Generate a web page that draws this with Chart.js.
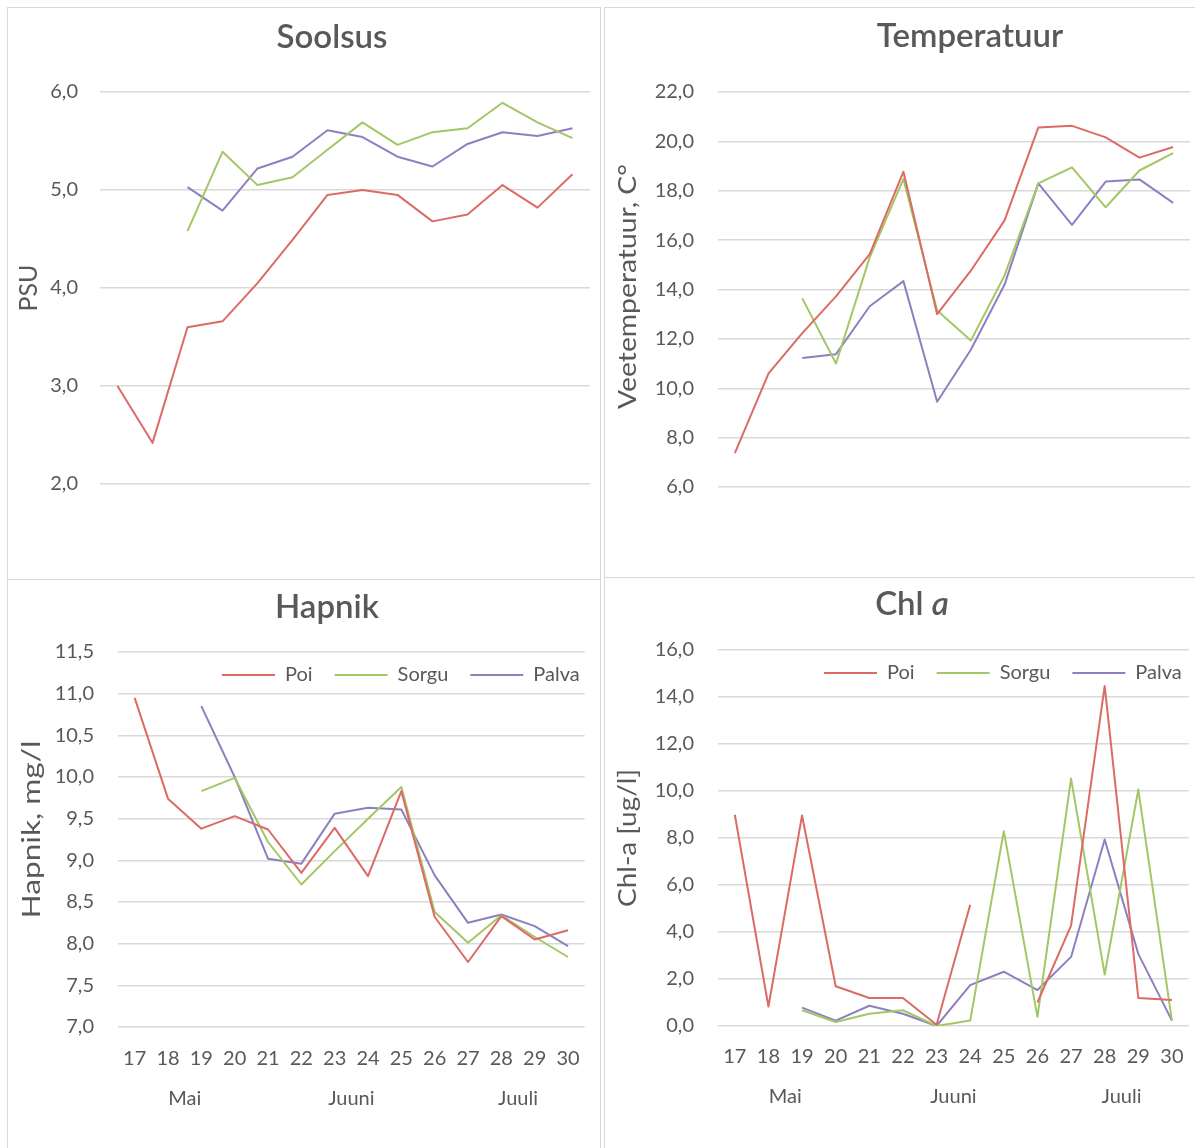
<!DOCTYPE html>
<html>
<head>
<meta charset="utf-8">
<title>Soolsus, temperatuur, hapnik, Chl a</title>
<script src="https://cdn.jsdelivr.net/npm/chart.js@4.4.1/dist/chart.umd.min.js"></script>
<style>
  html, body { margin: 0; padding: 0; background: #fff; overflow: hidden; }
  body { width: 1195px; height: 1148px; position: relative; }
  .panel { position: absolute; box-sizing: border-box; border: 1px solid #d9d9d9; background: #fff; }
  .panel canvas { display: block; }
</style>
</head>
<body>
<div class="panel" style="left:7px;top:7px;width:594px;height:573px;"><canvas id="salinity-chart" width="592" height="571"></canvas></div>
<div class="panel" style="left:604px;top:7px;width:600px;height:571px;"><canvas id="temperature-chart" width="598" height="569"></canvas></div>
<div class="panel" style="left:7px;top:579px;width:594px;height:575px;"><canvas id="oxygen-chart" width="592" height="573"></canvas></div>
<div class="panel" style="left:604px;top:577px;width:600px;height:577px;"><canvas id="chl-chart" width="598" height="575"></canvas></div>

<script>
// sampling days and months
const days = ["17", "18", "19", "20", "21", "22", "23", "24", "25", "26", "27", "28", "29", "30"];
const monthNames = ["Mai", "Juuni", "Juuli"];
const monthDayCounts = [4, 6, 4];
const stationNames = ["Poi", "Sorgu", "Palva"];

// Soolsus (PSU)
const salinityTicks = [2, 3, 4, 5, 6];
const salinityPoi = [3.0, 2.42, 3.6, 3.66, 4.05, 4.49, 4.95, 5.0, 4.95, 4.68, 4.75, 5.05, 4.82, 5.16];
const salinitySorgu = [null, null, 4.58, 5.39, 5.05, 5.13, 5.41, 5.69, 5.46, 5.59, 5.63, 5.89, 5.69, 5.53];
const salinityPalva = [null, null, 5.03, 4.79, 5.22, 5.34, 5.61, 5.54, 5.34, 5.24, 5.47, 5.59, 5.55, 5.63];

// Temperatuur (C)
const temperatureTicks = [6, 8, 10, 12, 14, 16, 18, 20, 22];
const temperaturePoi = [7.37, 10.6, 12.23, 13.72, 15.43, 18.77, 13.0, 14.76, 16.8, 20.56, 20.63, 20.16, 19.34, 19.77];
const temperatureSorgu = [null, null, 13.64, 11.0, 15.3, 18.48, 13.15, 11.93, 14.57, 18.3, 18.95, 17.33, 18.82, 19.52];
const temperaturePalva = [null, null, 11.23, 11.38, 13.32, 14.34, 9.45, 11.56, 14.2, 18.3, 16.62, 18.37, 18.46, 17.51];

// Hapnik (mg/l)
const oxygenTicks = [7, 7.5, 8, 8.5, 9, 9.5, 10, 10.5, 11, 11.5];
const oxygenPoi = [10.95, 9.74, 9.38, 9.53, 9.37, 8.85, 9.39, 8.81, 9.83, 8.32, 7.78, 8.33, 8.05, 8.16];
const oxygenSorgu = [null, null, 9.83, 9.99, 9.22, 8.71, 9.11, 9.5, 9.88, 8.38, 8.01, 8.34, 8.08, 7.84];
const oxygenPalva = [null, null, 10.85, 10.0, 9.02, 8.96, 9.56, 9.63, 9.61, 8.82, 8.25, 8.35, 8.21, 7.97];

// Chl a (ug/l)
const chlTicks = [0, 2, 4, 6, 8, 10, 12, 14, 16];
const chlPoi = [8.99, 0.83, 8.96, 1.69, 1.19, 1.19, 0.05, 5.16, null, 1.0, 4.27, 14.47, 1.19, 1.11];
const chlSorgu = [null, null, 0.67, 0.17, 0.52, 0.67, 0.0, 0.23, 8.29, 0.39, 10.53, 2.19, 10.06, 0.23];
const chlPalva = [null, null, 0.78, 0.23, 0.86, 0.52, 0.0, 1.74, 2.31, 1.53, 2.94, 7.94, 3.07, 0.23];

const lineColors = ["#dc6b66", "#a3c765", "#8f7fc1"];
const textColor = "#595959";
const gridColor = "#d9d9d9";
const fontFamily = "Lato, 'Open Sans', sans-serif";

// month label positions = middle of each month's group of days
const monthCenters = [];
let dayStart = 0;
monthDayCounts.forEach((count) => {
  monthCenters.push(dayStart + (count - 1) / 2);
  dayStart += count;
});

function commaNumber(value) {
  return Number(value).toFixed(1).replace(".", ",");
}

// chart title drawn in parts so "a" in "Chl a" can be italic
const panelTitle = {
  id: "panelTitle",
  afterDraw(chart, args, opts) {
    const ctx = chart.ctx;
    const parts = opts.parts || [];
    const fontFor = (p) => (p.italic ? "italic " : "") + "600 " + opts.size + "px " + fontFamily;
    ctx.save();
    ctx.fillStyle = textColor;
    ctx.textBaseline = "middle";
    ctx.textAlign = "left";
    let total = 0;
    parts.forEach((p) => {
      ctx.font = fontFor(p);
      p.w = ctx.measureText(p.text).width;
      total += p.w;
    });
    let x = opts.x - total / 2;
    parts.forEach((p) => {
      ctx.font = fontFor(p);
      ctx.fillText(p.text, x, opts.y);
      x += p.w;
    });
    ctx.restore();
  },
};

// y axis title, rotated and stretched along its length like the excel export
const yTitle = {
  id: "yTitle",
  afterDraw(chart, args, opts) {
    const ctx = chart.ctx;
    const area = chart.chartArea;
    ctx.save();
    ctx.font = opts.size + "px " + fontFamily;
    ctx.fillStyle = textColor;
    ctx.textAlign = "center";
    ctx.textBaseline = "middle";
    const w = ctx.measureText(opts.text).width;
    ctx.translate(opts.x, (area.top + area.bottom) / 2 + (opts.dy || 0));
    ctx.rotate(-Math.PI / 2);
    ctx.scale(opts.length / w, 1);
    ctx.fillText(opts.text, 0, 0);
    ctx.restore();
  },
};

// the legend sits inside the plot area (top right) like in Excel
const legendInside = {
  id: "legendInside",
  afterLayout(chart, args, opts) {
    const legend = chart.legend;
    if (!legend || opts.top === undefined) return;
    const dx = chart.chartArea.right + opts.right - legend.right;
    const dy = chart.chartArea.top + opts.top - legend.top;
    legend.left += dx;
    legend.right += dx;
    legend.top += dy;
    legend.bottom += dy;
  },
};

function makeDatasets(poi, sorgu, palva) {
  return [poi, sorgu, palva].map((values, i) => ({
    label: stationNames[i],
    data: values,
    borderColor: lineColors[i],
    backgroundColor: lineColors[i],
    borderWidth: 2,
    pointRadius: 0,
    pointHoverRadius: 0,
    tension: 0,
    borderJoinStyle: "round",
    spanGaps: false,
  }));
}

function makeChart(canvasId, setup) {
  const ticks = setup.ticks;
  const bottomAxes = setup.withDays
    ? {
        x: {
          type: "category",
          offset: true,
          weight: 0,
          grid: { display: false, drawTicks: false },
          border: { display: false },
          ticks: {
            color: textColor,
            font: { family: fontFamily, size: 20 },
            padding: setup.dayPad,
            autoSkip: false,
            maxRotation: 0,
          },
          afterFit: (scale) => {
            scale.height = 52;
          },
        },
        x2: {
          type: "linear",
          position: "bottom",
          weight: 1,
          min: -0.5,
          max: days.length - 0.5,
          grid: { display: false, drawTicks: false },
          border: { display: false },
          afterBuildTicks: (scale) => {
            scale.ticks = monthCenters.map((v) => ({ value: v }));
          },
          ticks: {
            color: textColor,
            font: { family: fontFamily, size: 20 },
            padding: setup.monthPad,
            autoSkip: false,
            maxRotation: 0,
            callback: (value, index) => monthNames[index],
          },
          afterFit: (scale) => {
            scale.height = 44;
          },
        },
      }
    : {
        x: { type: "category", offset: true, display: false },
      };

  return new Chart(document.getElementById(canvasId), {
    type: "line",
    data: {
      labels: days,
      datasets: makeDatasets(setup.poi, setup.sorgu, setup.palva),
    },
    options: {
      responsive: false,
      animation: false,
      devicePixelRatio: 1,
      layout: { padding: setup.padding },
      scales: {
        ...bottomAxes,
        y: {
          min: ticks[0],
          max: ticks[ticks.length - 1],
          grid: { color: gridColor, lineWidth: 1.5, drawTicks: false },
          border: { display: false },
          ticks: {
            stepSize: ticks[1] - ticks[0],
            color: textColor,
            font: { family: fontFamily, size: 20 },
            padding: setup.tickPad,
            callback: (value) => commaNumber(value),
          },
          afterFit: (scale) => {
            scale.width = setup.yWidth;
          },
        },
      },
      plugins: {
        legend: setup.withLegend
          ? {
              display: true,
              position: "top",
              align: "end",
              labels: {
                usePointStyle: true,
                pointStyle: "line",
                pointStyleWidth: 53,
                color: textColor,
                font: { family: fontFamily, size: 20 },
                padding: 22,
              },
            }
          : { display: false },
        legendInside: setup.legendPlace || {},
        tooltip: { enabled: false },
        panelTitle: setup.title,
        yTitle: setup.yTitle,
      },
    },
    plugins: [panelTitle, yTitle, legendInside],
  });
}

makeChart("salinity-chart", {
  ticks: salinityTicks,
  poi: salinityPoi,
  sorgu: salinitySorgu,
  palva: salinityPalva,
  yTitle: { text: "PSU", x: 21, size: 25, length: 47 },
  yWidth: 92,
  tickPad: 22,
  padding: { top: 84, right: 10, bottom: 95, left: 0 },
  withDays: false,
  withLegend: false,
  title: { parts: [{ text: "Soolsus" }], x: 324, y: 29, size: 33 },
});

makeChart("temperature-chart", {
  ticks: temperatureTicks,
  poi: temperaturePoi,
  sorgu: temperatureSorgu,
  palva: temperaturePalva,
  yTitle: { text: "Veetemperatuur, C°", x: 23, size: 25, length: 245, dy: -3 },
  yWidth: 113,
  tickPad: 24,
  padding: { top: 84, right: 13, bottom: 90, left: 0 },
  withDays: false,
  withLegend: false,
  title: { parts: [{ text: "Temperatuur" }], x: 365, y: 28, size: 33 },
});

makeChart("oxygen-chart", {
  ticks: oxygenTicks,
  poi: oxygenPoi,
  sorgu: oxygenSorgu,
  palva: oxygenPalva,
  yTitle: { text: "Hapnik, mg/l", x: 24, size: 25, length: 178, dy: -10 },
  yWidth: 110,
  tickPad: 24,
  dayPad: 20,
  monthPad: 8,
  padding: { top: 20, right: 10, bottom: 30, left: 0 },
  withDays: true,
  withLegend: true,
  legendPlace: { top: -9, right: 17 },
  title: { parts: [{ text: "Hapnik" }], x: 319, y: 27, size: 33 },
});

makeChart("chl-chart", {
  ticks: chlTicks,
  poi: chlPoi,
  sorgu: chlSorgu,
  palva: chlPalva,
  yTitle: { text: "Chl-a [ug/l]", x: 23, size: 25, length: 138 },
  yWidth: 113,
  tickPad: 24,
  dayPad: 19,
  monthPad: 7,
  padding: { top: 20, right: 13, bottom: 31, left: 0 },
  withDays: true,
  withLegend: true,
  legendPlace: { top: -9, right: 15 },
  title: { parts: [{ text: "Chl " }, { text: "a", italic: true }], x: 307, y: 26, size: 33 },
});
</script>
</body>
</html>
